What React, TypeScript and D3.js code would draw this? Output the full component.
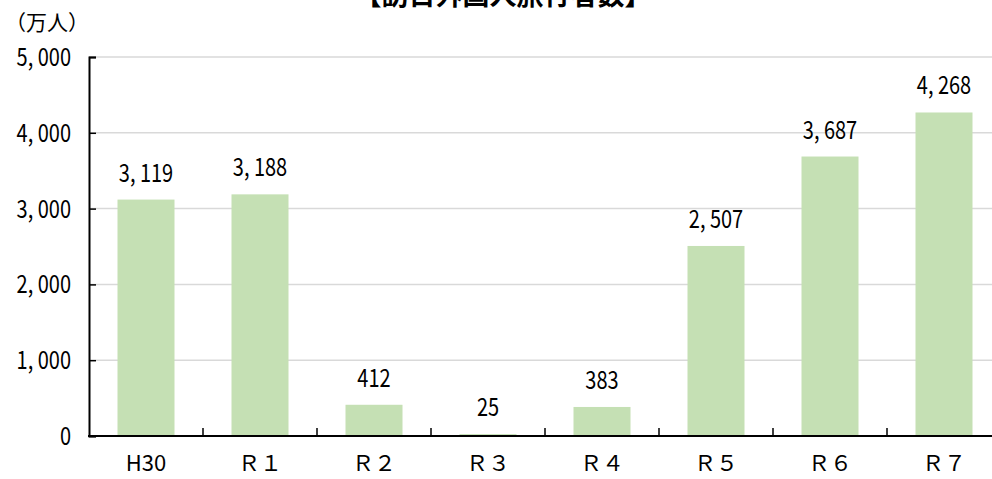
import React, { useEffect, useRef } from 'react';
import * as d3 from 'd3';

const categories = ['H30', 'Ｒ１', 'Ｒ２', 'Ｒ３', 'Ｒ４', 'Ｒ５', 'Ｒ６', 'Ｒ７'];
const visitors = [3119, 3188, 412, 25, 383, 2507, 3687, 4268];
const yTicks = [0, 1000, 2000, 3000, 4000, 5000];
const title = '【訪日外国人旅行者数】';
const unitLabel = '（万人）';

const fmt = (v: number) => d3.format(',')(v).replace(',', ', ');

export default function App() {
  const svgRef = useRef<SVGSVGElement>(null);

  useEffect(() => {
    const w = 992;
    const h = 479;
    const svg = d3.select(svgRef.current);
    svg.selectAll('*').remove();

    const x = d3.scaleBand<string>()
      .domain(categories)
      .range([89, 89 + 114 * categories.length])
      .paddingInner(0.5)
      .paddingOuter(0.25);

    const y = d3.scaleLinear()
      .domain([0, 5000])
      .range([436, 57]);

    const numFont = '"Noto Sans CJK JP", "Noto Sans", sans-serif';

    // gridlines
    svg.append('g')
      .selectAll('line')
      .data(yTicks.filter(t => t > 0))
      .enter()
      .append('line')
      .attr('x1', 89)
      .attr('x2', w)
      .attr('y1', d => y(d))
      .attr('y2', d => y(d))
      .attr('stroke', '#d9d9d9')
      .attr('stroke-width', 1.5);

    // bars
    svg.append('g')
      .selectAll('rect')
      .data(visitors)
      .enter()
      .append('rect')
      .attr('x', (d, i) => x(categories[i])!)
      .attr('y', d => y(d))
      .attr('width', x.bandwidth())
      .attr('height', d => y(0) - y(d))
      .attr('fill', '#c5e0b4');

    // value labels (narrow digits)
    svg.append('g')
      .selectAll('text')
      .data(visitors)
      .enter()
      .append('text')
      .attr('transform', (d, i) => `translate(${x(categories[i])! + x.bandwidth() / 2},${y(d) - 18}) scale(0.8,1)`)
      .attr('text-anchor', 'middle')
      .style('font-family', numFont)
      .style('font-size', '25px')
      .attr('fill', '#000')
      .text(d => fmt(d));

    // y axis
    const yAxis = d3.axisRight(y).tickValues(yTicks).tickSize(7).tickFormat(() => '');
    const gy = svg.append('g')
      .attr('transform', 'translate(89,0)')
      .call(yAxis);
    gy.selectAll('line').attr('stroke', '#000').attr('stroke-width', 1.5);
    gy.select('.domain').attr('stroke', '#000').attr('stroke-width', 2);

    svg.append('g')
      .selectAll('text')
      .data(yTicks)
      .enter()
      .append('text')
      .attr('transform', d => `translate(71,${y(d) + 9}) scale(0.8,1)`)
      .attr('text-anchor', 'end')
      .style('font-family', numFont)
      .style('font-size', '25px')
      .attr('fill', '#000')
      .text(d => fmt(d));

    // x axis
    svg.append('line')
      .attr('x1', 88)
      .attr('x2', w)
      .attr('y1', y(0))
      .attr('y2', y(0))
      .attr('stroke', '#000')
      .attr('stroke-width', 2);

    svg.append('g')
      .selectAll('line')
      .data(categories.slice(1))
      .enter()
      .append('line')
      .attr('x1', d => x(d)! - x.step() * x.paddingInner() / 2)
      .attr('x2', d => x(d)! - x.step() * x.paddingInner() / 2)
      .attr('y1', y(0))
      .attr('y2', y(0) - 8)
      .attr('stroke', '#000')
      .attr('stroke-width', 1.5);

    svg.append('g')
      .selectAll('text')
      .data(categories)
      .enter()
      .append('text')
      .attr('x', d => x(d)! + x.bandwidth() / 2)
      .attr('y', 471)
      .attr('text-anchor', 'middle')
      .style('font-family', '"Noto Sans CJK JP", sans-serif')
      .style('font-size', '22px')
      .attr('fill', '#000')
      .text(d => d);

    // unit + title
    svg.append('text')
      .attr('x', 5)
      .attr('y', 30)
      .style('font-family', '"Noto Sans CJK JP", sans-serif')
      .style('font-size', '21px')
      .attr('fill', '#000')
      .text(unitLabel);

    svg.append('text')
      .attr('x', 503)
      .attr('y', 5)
      .attr('text-anchor', 'middle')
      .style('font-family', '"Noto Sans CJK JP", sans-serif')
      .style('font-size', '27px')
      .style('font-weight', 'bold')
      .attr('fill', '#000')
      .text(title);

    svg.attr('width', w).attr('height', h);
  }, []);

  return (
    <div>
      <svg ref={svgRef} style={{ position: 'absolute', left: 0, top: 0, background: '#fff' }} />
    </div>
  );
}
